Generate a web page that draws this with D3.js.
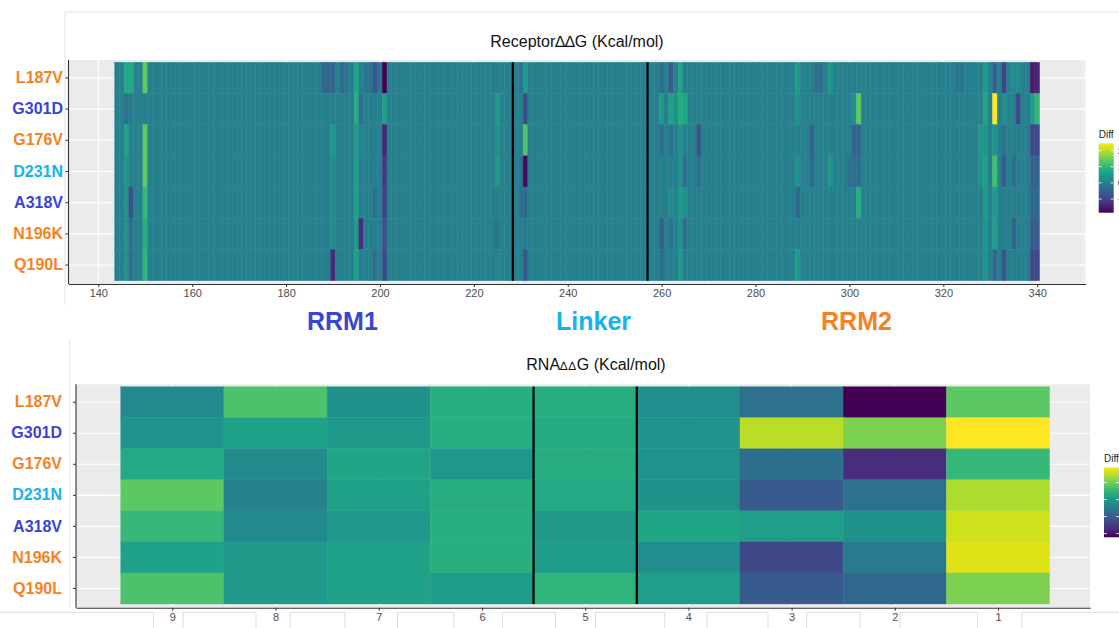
<!DOCTYPE html>
<html>
<head>
<meta charset="utf-8">
<script src="https://cdn.jsdelivr.net/npm/d3@7"></script>
<style>
  body { margin: 0; background: #fff; }
  svg { display: block; font-family: "Liberation Sans", Arial, Helvetica, sans-serif; }
</style>
</head>
<body>
<svg id="chart" width="1119" height="628"></svg>
<script>
// rows, top to bottom
const mutants = ['L187V', 'G301D', 'G176V', 'D231N', 'A318V', 'N196K', 'Q190L'];
const mutantColors = ['#f6821f', '#3a44d4', '#f6821f', '#18b1ef', '#3a44d4', '#f6821f', '#f6821f'];

// receptor residues 144..340; every cell not listed below reads as 0
const firstResidue = 144;
const lastResidue = 340;
const receptorTicks = [140, 160, 180, 200, 220, 240, 260, 280, 300, 320, 340];
const receptorMinorTicks = [150, 170, 190, 210, 230, 250, 270, 290, 310, 330, 350];
const receptorBreaks = [228.3, 257];
const regionNames = ['RRM1', 'Linker', 'RRM2'];
const regionColors = ['#3a44d4', '#18b1ef', '#f6821f'];
const regionLabelAt = [192, 245.5, 301.5];

// [residue, ddG] for the cells that stand out from 0
const recL187V = [[146, 0.73], [147, 0.73], [150, 1.37], [188, -0.4], [189, -0.4], [190, -0.45], [192, -0.4], [193, -0.15],
  [195, 0.64], [197, -0.2], [198, -0.25], [199, -0.7], [200, -0.2], [201, -1.84], [230, -0.2], [231, 0.5],
  [260, -0.3], [262, -0.6], [264, 0.7], [289, 0.5], [293, -0.3], [294, -0.3], [296, 0.45],
  [323, -0.2], [324, -0.2], [329, 0.5], [331, -0.5], [333, -0.95], [335, 0.2], [336, 0.2], [339, -1.5], [340, -1.4]];
const recG301D = [[146, -0.25], [147, -0.1], [195, 0.81], [196, -0.3], [201, 0.6], [225, 0.5], [231, -0.85],
  [260, 0.5], [262, 0.6], [263, 0.3], [264, 0.8], [265, 0.7], [289, 0.3], [301, 0.3], [302, 1.37],
  [329, 0.7], [331, 2.44], [333, 0.3], [336, -0.9], [339, 0.5], [340, 1.0]];
const recG176V = [[146, 0.64], [150, 1.37], [190, 0.45], [195, 0.5], [196, 0.1], [201, -1.41], [225, 0.3], [231, 1.24],
  [260, -0.3], [262, -0.2], [264, 0.3], [268, -0.7], [292, -0.5], [301, -0.45], [302, -0.45],
  [328, 0.45], [329, 0.4], [331, 0.4], [333, -0.2], [339, -0.9], [340, -0.9]];
const recD231N = [[146, 0.43], [150, 1.37], [190, 0.25], [195, 0.6], [201, -1.1], [225, 0.5], [230, -0.2], [231, -1.75],
  [264, 0.3], [265, -0.3], [268, -0.3], [289, 0.3], [292, -0.4], [296, 0.45], [300, -0.25], [301, -0.3], [302, -0.3],
  [328, 0.3], [329, 0.6], [331, 1.15], [333, -0.6], [335, -0.3], [339, -0.5], [340, -0.5]];
const recA318V = [[146, 0.3], [147, -0.77], [150, 1.03], [190, 0.25], [195, 0.6], [199, -0.3], [201, -1.0], [230, -0.3], [231, -0.4],
  [262, 0.2], [264, 0.5], [265, 0.3], [289, -0.4], [302, 0.8], [329, 0.5], [331, 0.5], [339, -0.4], [340, -0.4]];
const recN196K = [[146, 0.35], [147, -0.3], [150, 0.86], [190, 0.25], [195, 0.5], [196, -1.28], [201, -0.77], [225, -0.2], [231, -0.1],
  [260, -0.6], [262, -0.2], [264, 0.3], [265, -0.3], [329, 0.4], [331, 0.55], [335, -0.5], [339, -0.6], [340, -0.6]];
const recQ190L = [[146, 0.3], [147, -0.3], [150, 1.0], [190, -1.33], [195, 0.6], [199, -0.3], [201, -0.9], [225, 0.1], [231, -0.7],
  [260, -0.3], [264, 0.5], [289, 0.5], [329, 0.4], [331, -0.4], [333, -0.7], [339, -0.9], [340, -0.9]];
const receptorHotspots = [recL187V, recG301D, recG176V, recD231N, recA318V, recN196K, recQ190L];

// RNA positions, left to right
const rnaPositions = [9, 8, 7, 6, 5, 4, 3, 2, 1];
const rnaBreaks = [5.5, 4.5];
const rnaL187V = [-0.14, 0.37, -0.08, 0.19, 0.17, -0.10, -0.35, -1.11, 0.43];
const rnaG301D = [-0.04, 0.08, 0.00, 0.17, 0.15, -0.04, 0.74, 0.54, 0.95];
const rnaG176V = [0.13, -0.12, 0.11, -0.02, 0.17, -0.04, -0.37, -0.84, 0.27];
const rnaD231N = [0.43, -0.20, 0.06, 0.17, 0.13, -0.08, -0.53, -0.35, 0.70];
const rnaA318V = [0.27, -0.14, -0.02, 0.19, 0.00, 0.11, 0.04, -0.08, 0.79];
const rnaN196K = [0.08, 0.00, 0.06, 0.19, 0.02, -0.10, -0.66, -0.27, 0.85];
const rnaQ190L = [0.37, 0.00, 0.08, 0.02, 0.23, 0.04, -0.53, -0.43, 0.54];
const rnaRows = [rnaL187V, rnaG301D, rnaG176V, rnaD231N, rnaA318V, rnaN196K, rnaQ190L];

const receptorLegendTicks = [-1, 0, 1, 2];
const rnaLegendTicks = [-1, -0.5, 0, 0.5];

const svg = d3.select('#chart');

const receptorCells = mutants.flatMap((m, i) => {
  const hot = new Map(receptorHotspots[i]);
  return d3.range(firstResidue, lastResidue + 1).map(p => ({ m, p, v: hot.has(p) ? hot.get(p) : 0 }));
});
const rnaCells = mutants.flatMap((m, i) => rnaPositions.map((p, j) => ({ m, p, v: rnaRows[i][j] })));

function drawPanel(o) {
  const g = svg.append('g');
  const [px0, px1] = o.x.range();
  const [py0, py1] = o.panelY;
  const y = o.y;

  g.append('rect')
    .attr('x', px0).attr('y', py0)
    .attr('width', px1 - px0).attr('height', py1 - py0)
    .attr('fill', '#ebebeb');

  // grid
  g.selectAll('line.minor').data(o.minorTicks).join('line')
    .attr('x1', d => o.x(d)).attr('x2', d => o.x(d))
    .attr('y1', py0).attr('y2', py1)
    .attr('stroke', '#fff').attr('stroke-width', 0.55);
  g.selectAll('line.major').data(o.ticks).join('line')
    .attr('x1', d => o.x(d)).attr('x2', d => o.x(d))
    .attr('y1', py0).attr('y2', py1)
    .attr('stroke', '#fff').attr('stroke-width', 1.1);
  g.selectAll('line.hgrid').data(y.domain()).join('line')
    .attr('x1', px0).attr('x2', px1)
    .attr('y1', d => y(d) + y.bandwidth() / 2).attr('y2', d => y(d) + y.bandwidth() / 2)
    .attr('stroke', '#fff').attr('stroke-width', 1.1);

  // tiles (thin same-colour stroke keeps the seams faint)
  g.append('g').selectAll('rect').data(o.cells).join('rect')
    .attr('x', d => Math.min(o.x(d.p - 0.5), o.x(d.p + 0.5)))
    .attr('width', d => Math.abs(o.x(d.p + 0.5) - o.x(d.p - 0.5)))
    .attr('y', d => y(d.m))
    .attr('height', y.bandwidth())
    .attr('fill', d => o.color(d.v))
    .attr('stroke', d => o.color(d.v))
    .attr('stroke-width', o.seam);

  // domain separators
  g.selectAll('line.brk').data(o.breaks).join('line')
    .attr('x1', d => o.x(d)).attr('x2', d => o.x(d))
    .attr('y1', y.range()[0]).attr('y2', y.range()[1])
    .attr('stroke', '#000').attr('stroke-width', 2.2);

  // x axis
  const xa = g.append('g')
    .attr('transform', `translate(0,${py1})`)
    .call(d3.axisBottom(o.x).tickValues(o.ticks).tickSize(3).tickSizeOuter(0).tickPadding(2.5));
  xa.select('.domain').attr('stroke', '#333').attr('stroke-width', 1.1);
  xa.selectAll('.tick line').attr('stroke', '#333');
  xa.selectAll('.tick text').attr('fill', '#4d4d4d').style('font-size', '11px');

  // y axis
  const ya = g.append('g')
    .attr('transform', `translate(${px0},0)`)
    .call(d3.axisLeft(y).tickSize(3).tickPadding(o.labelPad));
  ya.select('.domain').remove();
  ya.selectAll('.tick line').attr('stroke', '#333');
  ya.selectAll('.tick text')
    .attr('fill', d => mutantColors[mutants.indexOf(d)])
    .style('font-size', '16px').style('font-weight', 'bold');
  g.append('line')
    .attr('x1', px0).attr('x2', px0).attr('y1', py0).attr('y2', py1)
    .attr('stroke', '#333').attr('stroke-width', 1.1);
}

function drawColorbar(color, ticks, x, y, w, h, titleY) {
  const id = 'grad' + Math.round(y);
  const grad = svg.append('defs').append('linearGradient')
    .attr('id', id).attr('x1', 0).attr('y1', 1).attr('x2', 0).attr('y2', 0);
  const [lo, hi] = color.domain();
  d3.range(0, 1.0001, 0.05).forEach(t => {
    grad.append('stop').attr('offset', t).attr('stop-color', color(lo + t * (hi - lo)));
  });
  svg.append('text').attr('x', x).attr('y', titleY)
    .style('font-size', '10px').attr('fill', '#222').text('Diff');
  svg.append('rect').attr('x', x).attr('y', y).attr('width', w).attr('height', h)
    .attr('fill', `url(#${id})`);
  const s = d3.scaleLinear().domain([lo, hi]).range([y + h, y]);
  ticks.forEach(t => {
    svg.append('line').attr('x1', x).attr('x2', x + 3).attr('y1', s(t)).attr('y2', s(t))
      .attr('stroke', '#fff').attr('stroke-width', 0.8);
    svg.append('line').attr('x1', x + w - 3).attr('x2', x + w).attr('y1', s(t)).attr('y2', s(t))
      .attr('stroke', '#fff').attr('stroke-width', 0.8);
    // the labels run past the right edge, as in the screenshot
    svg.append('text').attr('x', x + w + 4).attr('y', s(t)).attr('dy', '0.35em')
      .style('font-size', '9px').attr('fill', '#333').text(t);
  });
}

// frames from the screenshot
svg.append('path').attr('d', 'M65,305V12H1125').attr('fill', 'none').attr('stroke', '#e3e3e3');
svg.append('path').attr('d', 'M70,340V608').attr('fill', 'none').attr('stroke', '#e3e3e3');
const stubBoxes = [[-5, 153.6], [183, 256], [290, 345], [397.5, 454], [502.5, 555.5], [595.4, 664.8], [707, 768], [806.6, 860], [900, 977.6], [1022, 1130]];
svg.append('g').selectAll('path').data(stubBoxes).join('path')
  .attr('d', d => `M${d[0]},632V612.3H${d[1]}V632`)
  .attr('fill', 'none').attr('stroke', '#dcdcdc');

// ---- receptor heatmap ----
const span = lastResidue - firstResidue + 1;
const xTop = d3.scaleLinear()
  .domain([firstResidue - 0.5 - 0.05 * span, lastResidue + 0.5 + 0.05 * span])
  .range([68.5, 1085.8]);
const yTop = d3.scaleBand().domain(mutants).range([62.3, 280.7]);
const colorTop = d3.scaleSequential(d3.interpolateViridis).domain(d3.extent(receptorCells, d => d.v));

drawPanel({ x: xTop, y: yTop, panelY: [60, 284], cells: receptorCells, color: colorTop,
  ticks: receptorTicks, minorTicks: receptorMinorTicks, breaks: receptorBreaks, labelPad: 2.5, seam: 0.45 });

svg.append('text').attr('x', 577).attr('y', 47).attr('text-anchor', 'middle')
  .style('font-size', '16px').attr('fill', '#111').text('Receptor\u2206\u2206G (Kcal/mol)');

svg.append('g').selectAll('text').data(regionNames).join('text')
  .attr('x', (d, i) => xTop(regionLabelAt[i])).attr('y', 330)
  .attr('text-anchor', 'middle')
  .style('font-size', '25px').style('font-weight', 'bold')
  .attr('fill', (d, i) => regionColors[i])
  .text(d => d);

drawColorbar(colorTop, receptorLegendTicks, 1098.7, 143.3, 15, 69.4, 138);

// ---- RNA heatmap ----
const xBot = d3.scaleLinear().domain([9.933, 0.107]).range([76, 1090.2]);
const yBot = d3.scaleBand().domain(mutants).range([386.7, 604]);
const colorBot = d3.scaleSequential(d3.interpolateViridis).domain(d3.extent(rnaCells, d => d.v));

drawPanel({ x: xBot, y: yBot, panelY: [384.3, 607.7], cells: rnaCells, color: colorBot,
  ticks: rnaPositions, minorTicks: [], breaks: rnaBreaks, labelPad: 11, seam: 0.3 });

const t2 = svg.append('text').attr('x', 596).attr('y', 370).attr('text-anchor', 'middle')
  .style('font-size', '16px').attr('fill', '#111');
t2.append('tspan').text('RNA');
t2.append('tspan').style('font-size', '12px').attr('letter-spacing', '1').text('\u2206\u2206');
t2.append('tspan').text('G (Kcal/mol)');

drawColorbar(colorBot, rnaLegendTicks, 1104, 467.3, 15, 70, 462);
</script>
</body>
</html>
